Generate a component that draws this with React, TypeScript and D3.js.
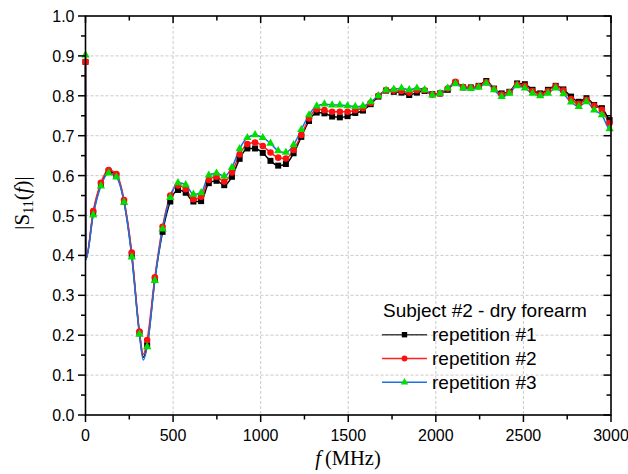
import React from "react";
import * as d3 from "d3";

// marker frequencies (MHz), one marker every 44 MHz
const markerFreqs: number[] = d3.range(69).map((k) => k * 44);

const rep1: number[] = [
  0.885, 0.505, 0.578, 0.61, 0.6, 0.535, 0.402, 0.205, 0.175, 0.34,
  0.459, 0.535, 0.564, 0.557, 0.535, 0.536, 0.581, 0.587, 0.576, 0.597,
  0.642, 0.668, 0.668, 0.657, 0.637, 0.625, 0.629, 0.656, 0.697, 0.737,
  0.758, 0.756, 0.748, 0.746, 0.749, 0.757, 0.763, 0.779, 0.798, 0.813,
  0.81, 0.808, 0.802, 0.808, 0.812, 0.804, 0.806, 0.815, 0.833, 0.821,
  0.821, 0.825, 0.837, 0.818, 0.806, 0.81, 0.831, 0.829, 0.815, 0.806,
  0.815, 0.825, 0.816, 0.798, 0.785, 0.794, 0.777, 0.769, 0.739,
];
const rep2: number[] = [
  0.885, 0.511, 0.582, 0.614, 0.604, 0.539, 0.407, 0.209, 0.188, 0.345,
  0.472, 0.55, 0.575, 0.566, 0.541, 0.547, 0.589, 0.597, 0.585, 0.608,
  0.653, 0.679, 0.683, 0.674, 0.658, 0.645, 0.643, 0.664, 0.702, 0.743,
  0.766, 0.764, 0.76, 0.76, 0.76, 0.764, 0.769, 0.782, 0.8, 0.814,
  0.813, 0.812, 0.808, 0.814, 0.814, 0.803, 0.806, 0.818, 0.835, 0.822,
  0.82, 0.824, 0.834, 0.817, 0.803, 0.809, 0.828, 0.825, 0.812, 0.803,
  0.812, 0.824, 0.813, 0.792, 0.78, 0.79, 0.775, 0.765, 0.732,
];
const rep3: number[] = [
  0.902, 0.501, 0.574, 0.606, 0.596, 0.533, 0.396, 0.202, 0.171, 0.337,
  0.466, 0.545, 0.582, 0.577, 0.553, 0.557, 0.601, 0.606, 0.599, 0.62,
  0.667, 0.695, 0.702, 0.695, 0.681, 0.662, 0.658, 0.677, 0.715, 0.752,
  0.774, 0.779, 0.777, 0.777, 0.775, 0.773, 0.774, 0.785, 0.8, 0.814,
  0.816, 0.819, 0.815, 0.819, 0.815, 0.802, 0.806, 0.819, 0.83, 0.82,
  0.818, 0.821, 0.831, 0.815, 0.798, 0.806, 0.825, 0.819, 0.806, 0.8,
  0.806, 0.819, 0.805, 0.784, 0.773, 0.785, 0.764, 0.752, 0.717,
];

// extra points of the measured curves between markers
const extraFreqs: number[] = [2, 330, 3000];
const rep1Extra: number[] = [0.39, 0.145, 0.735];
const rep2Extra: number[] = [0.39, 0.152, 0.73];
const rep3Extra: number[] = [0.39, 0.138, 0.72];

const xTicks: number[] = [0, 500, 1000, 1500, 2000, 2500, 3000];
const yTicks: number[] = [0, 0.1, 0.2, 0.3, 0.4, 0.5, 0.6, 0.7, 0.8, 0.9, 1.0];
const legendTitle = "Subject #2 - dry forearm";
const seriesNames: string[] = ["repetition #1", "repetition #2", "repetition #3"];

const W = 628;
const H = 474;
const M = { left: 85.5, right: 611, top: 16, bottom: 415 };

const x = d3.scaleLinear().domain([0, 3000]).range([M.left, M.right]);
const y = d3.scaleLinear().domain([0, 1]).range([M.bottom, M.top]);

type Pt = { f: number; v: number };

function mergeLine(vals: number[], extras: number[]): Pt[] {
  const pts: Pt[] = markerFreqs.map((f, i) => ({ f, v: vals[i] }));
  extraFreqs.forEach((f, i) => pts.push({ f, v: extras[i] }));
  return pts.sort((a, b) => a.f - b.f);
}

const series = [
  { name: seriesNames[0], vals: rep1, extra: rep1Extra, line: "#000000", mark: "#000000", sym: d3.symbolSquare, size: 36 },
  { name: seriesNames[1], vals: rep2, extra: rep2Extra, line: "#ff2020", mark: "#ff1010", sym: d3.symbolCircle, size: 34 },
  { name: seriesNames[2], vals: rep3, extra: rep3Extra, line: "#1f6fe0", mark: "#00e000", sym: d3.symbolTriangle, size: 30 },
];

const lineGen = d3
  .line<Pt>()
  .x((d) => x(d.f))
  .y((d) => y(d.v))
  .curve(d3.curveMonotoneX);

export default function App() {
  const xMinor = d3.range(0, 3001, 250);
  const yMinor = d3.range(0, 1.0001, 0.05);
  const sans = "'Liberation Sans', Arial, sans-serif";
  const serif = "'Liberation Serif', 'Times New Roman', serif";
  const legX = 382;
  const legY = 334.7;
  const legDy = 23.8;
  return (
    <svg
      width={W}
      height={H}
      style={{ position: "absolute", left: 0, top: 0, background: "#fff" }}
    >
      <rect x={0} y={0} width={W} height={H} fill="#fff" />
      {/* grid */}
      <g stroke="#c4c4c4" strokeWidth={0.9} strokeDasharray="3,2">
        {xTicks.slice(1, -1).map((t) => (
          <line key={"gx" + t} x1={x(t)} x2={x(t)} y1={M.top} y2={M.bottom} />
        ))}
        {yTicks.slice(1, -1).map((t) => (
          <line key={"gy" + t} x1={M.left} x2={M.right} y1={y(t)} y2={y(t)} />
        ))}
      </g>
      {/* series lines */}
      {series.map((s) => (
        <path
          key={"l" + s.name}
          d={lineGen(mergeLine(s.vals, s.extra)) || ""}
          fill="none"
          stroke={s.line}
          strokeWidth={1.5}
        />
      ))}
      {/* markers */}
      {series.map((s) => (
        <g key={"m" + s.name} fill={s.mark}>
          {markerFreqs.map((f, i) => (
            <path
              key={i}
              d={d3.symbol(s.sym, s.size)() || ""}
              transform={`translate(${x(f)},${y(s.vals[i])})`}
            />
          ))}
        </g>
      ))}
      {/* axes frame */}
      <rect
        x={M.left}
        y={M.top}
        width={M.right - M.left}
        height={M.bottom - M.top}
        fill="none"
        stroke="#000"
        strokeWidth={1.6}
      />
      {/* ticks */}
      <g stroke="#000" strokeWidth={1.5}>
        {xMinor.map((t) => {
          const major = t % 500 === 0;
          const len = major ? 7 : 4.5;
          return (
            <g key={"xt" + t}>
              <line x1={x(t)} x2={x(t)} y1={M.bottom} y2={M.bottom + len} />
              <line x1={x(t)} x2={x(t)} y1={M.top} y2={M.top + len} />
            </g>
          );
        })}
        {yMinor.map((t, i) => {
          const major = i % 2 === 0;
          const len = major ? 7.5 : 4.5;
          return (
            <g key={"yt" + i}>
              <line x1={M.left} x2={M.left - len} y1={y(t)} y2={y(t)} />
              <line x1={M.right} x2={M.right - len} y1={y(t)} y2={y(t)} />
            </g>
          );
        })}
      </g>
      {/* tick labels */}
      <g fontFamily={sans} fontSize={16} fill="#000">
        {xTicks.map((t) => (
          <text key={"xl" + t} x={x(t)} y={440.5} textAnchor="middle">
            {t}
          </text>
        ))}
        {yTicks.map((t) => (
          <text key={"yl" + t} x={74.5} y={y(t) + 6} textAnchor="end">
            {t.toFixed(1)}
          </text>
        ))}
      </g>
      {/* axis titles */}
      <text x={348} y={465} textAnchor="middle" fontFamily={serif} fontSize={20.5}>
        <tspan fontStyle="italic">f</tspan>
        <tspan dx={4}>(MHz)</tspan>
      </text>
      <text
        transform="translate(29,203) rotate(-90)"
        textAnchor="middle"
        fontFamily={serif}
        fontSize={21}
      >
        <tspan>|S</tspan>
        <tspan fontSize={14} dy={4}>11</tspan>
        <tspan dy={-4}>(</tspan>
        <tspan fontStyle="italic">f</tspan>
        <tspan>)|</tspan>
      </text>
      {/* legend */}
      <g fontFamily={sans} fontSize={19} fill="#000">
        <text x={legX + 1} y={317.3}>{legendTitle}</text>
        {series.map((s, i) => {
          const ly = legY + i * legDy;
          return (
            <g key={"lg" + s.name}>
              <line x1={legX} x2={legX + 45} y1={ly} y2={ly} stroke={i === 0 ? "#444" : s.line} strokeWidth={1.5} />
              <path
                d={d3.symbol(s.sym, s.size * 0.8)() || ""}
                transform={`translate(${legX + 22.5},${ly})`}
                fill={s.mark}
              />
              <text x={432} y={ly + 6.5}>{s.name}</text>
            </g>
          );
        })}
      </g>
    </svg>
  );
}
